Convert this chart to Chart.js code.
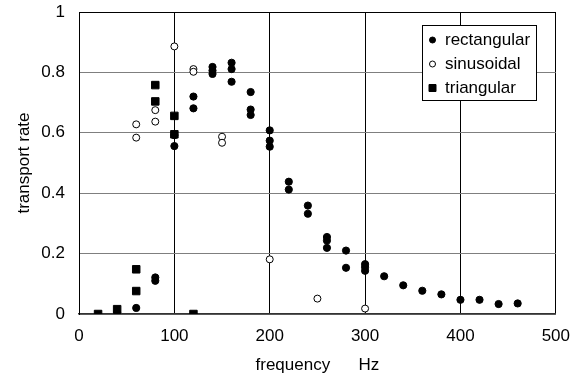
<!DOCTYPE html>
<html>
<head>
<meta charset="utf-8">
<script src="https://cdn.jsdelivr.net/npm/chart.js@4/dist/chart.umd.min.js"></script>
<style>
  html, body { margin: 0; padding: 0; background: #fff; }
  #wrap { width: 582px; height: 376px; }
</style>
</head>
<body>
<div id="wrap"><canvas id="chart" width="582" height="376"></canvas></div>
<script>
// rectangular wave
const rectFreq = [40, 60, 80, 80, 100, 100, 120, 120, 140, 140, 140, 160, 160, 160,
                  180, 180, 180, 200, 200, 200, 220, 220, 240, 240, 260, 260, 260,
                  280, 280, 300, 300, 300, 320, 340, 360, 380, 400, 420, 440, 460];
const rectRate = [0.005, 0.02, 0.121, 0.11, 0.592, 0.556, 0.72, 0.681, 0.818, 0.806, 0.795, 0.832, 0.811, 0.769,
                  0.735, 0.677, 0.659, 0.608, 0.574, 0.554, 0.438, 0.412, 0.359, 0.332, 0.255, 0.243, 0.219,
                  0.21, 0.153, 0.165, 0.155, 0.143, 0.125, 0.095, 0.077, 0.065, 0.047, 0.047, 0.033, 0.035];

// sinusoidal wave
const sinFreq = [60, 60, 80, 80, 100, 120, 120, 150, 150, 200, 250, 300];
const sinRate = [0.628, 0.584, 0.675, 0.637, 0.886, 0.811, 0.802, 0.587, 0.567, 0.181, 0.051, 0.018];

// triangular wave
const triFreq = [20, 40, 60, 60, 80, 80, 100, 100, 120];
const triRate = [0, 0.016, 0.148, 0.076, 0.758, 0.704, 0.656, 0.595, 0];

const xTicks = [0, 100, 200, 300, 400, 500];
const yTicks = [0, 0.2, 0.4, 0.6, 0.8, 1];

function toPoints(xs, ys) {
    return xs.map((x, i) => ({ x: x, y: ys[i] }));
}

const FONT = 'Liberation Sans, Arial, sans-serif';

// legend drawn inside the plot box, like the original
const boxLegend = {
    id: 'boxLegend',
    afterDraw(chart) {
        const ctx = chart.ctx;
        const left = 422.5, top = 25.5, w = 114, h = 75;
        ctx.save();
        ctx.fillStyle = '#fff';
        ctx.fillRect(left, top, w, h);
        ctx.strokeStyle = '#000';
        ctx.lineWidth = 1;
        ctx.strokeRect(left, top, w, h);
        ctx.font = '17px ' + FONT;
        ctx.textBaseline = 'middle';
        ctx.textAlign = 'left';
        const rows = [40, 64, 88];
        chart.data.datasets.forEach((ds, i) => {
            const cy = rows[i];
            ctx.fillStyle = ds.backgroundColor;
            ctx.strokeStyle = ds.borderColor;
            ctx.lineWidth = 1;
            ctx.beginPath();
            if (ds.pointStyle === 'rect') {
                ctx.rect(429, cy - 3.5, 7, 7);
            } else {
                ctx.arc(432.5, cy, 3, 0, Math.PI * 2);
            }
            ctx.fill();
            ctx.stroke();
            ctx.fillStyle = '#000';
            ctx.fillText(ds.label, 445, cy);
        });
        ctx.restore();
    }
};

new Chart(document.getElementById('chart'), {
    type: 'scatter',
    data: {
        datasets: [
            {
                label: 'rectangular',
                data: toPoints(rectFreq, rectRate),
                pointStyle: 'circle',
                pointRadius: 3.6,
                pointHoverRadius: 3.6,
                backgroundColor: '#000',
                borderColor: '#000',
                borderWidth: 1
            },
            {
                label: 'sinusoidal',
                data: toPoints(sinFreq, sinRate),
                pointStyle: 'circle',
                pointRadius: 3.5,
                pointHoverRadius: 3.5,
                backgroundColor: '#fff',
                borderColor: '#000',
                borderWidth: 1
            },
            {
                label: 'triangular',
                data: toPoints(triFreq, triRate),
                pointStyle: 'rect',
                pointRadius: 5.3,
                pointHoverRadius: 5.3,
                backgroundColor: '#000',
                borderColor: '#000',
                borderWidth: 1
            }
        ]
    },
    options: {
        responsive: false,
        animation: false,
        events: [],
        layout: { padding: { left: 0, top: 0, right: 26, bottom: 0 } },
        plugins: {
            legend: { display: false },
            tooltip: { enabled: false }
        },
        scales: {
            x: {
                type: 'linear',
                min: 0,
                max: 500,
                afterBuildTicks: s => { s.ticks = xTicks.map(v => ({ value: v })); },
                afterFit: s => { s.height = 62; },
                grid: { color: '#000', lineWidth: 1, drawTicks: false },
                border: { color: '#333', width: 1.5 },
                ticks: {
                    color: '#000',
                    padding: 12,
                    maxRotation: 0,
                    font: { family: FONT, size: 17 }
                },
                title: {
                    display: true,
                    text: 'frequency      Hz',
                    color: '#000',
                    padding: { top: 0, bottom: 0 },
                    font: { family: FONT, size: 17 }
                }
            },
            y: {
                type: 'linear',
                min: 0,
                max: 1,
                afterBuildTicks: s => { s.ticks = yTicks.map(v => ({ value: v })); },
                afterFit: s => { s.width = 79; s.paddingTop = 12; },
                grid: {
                    color: c => (c.tick && c.tick.value === 1) ? '#000' : '#7f7f7f',
                    lineWidth: 1,
                    drawTicks: false
                },
                border: { color: '#000', width: 1 },
                ticks: {
                    color: '#000',
                    padding: 14,
                    font: { family: FONT, size: 17 },
                    callback: v => String(v)
                },
                title: {
                    display: true,
                    text: 'transport rate',
                    color: '#000',
                    padding: { top: 14, bottom: 0 },
                    font: { family: FONT, size: 17 }
                }
            }
        }
    },
    plugins: [boxLegend]
});
</script>
</body>
</html>
